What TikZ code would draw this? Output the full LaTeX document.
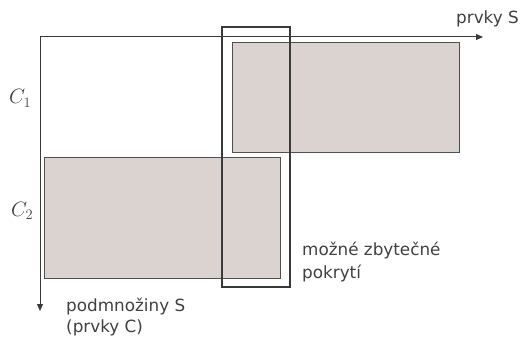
\documentclass[tikz,border=0pt]{standalone}
\usepackage{fontspec}
\setmainfont{DejaVu Sans}
\usetikzlibrary{arrows.meta}
\definecolor{txt}{HTML}{404040}
\definecolor{axis}{HTML}{3A3A3A}
\definecolor{fillg}{HTML}{DBD3D0}
\definecolor{edgeg}{HTML}{505050}
\begin{document}
\begin{tikzpicture}[x=1pt,y=-1pt,
  graybox/.style={draw=edgeg,line width=0.9pt,fill=fillg,inner sep=0pt,outer sep=0pt},
  darkbox/.style={draw=axis,line width=1.6pt,inner sep=0pt,outer sep=0pt},
  axisline/.style={draw=axis,line width=1pt,-{Triangle[length=7pt,width=6pt]}},
  lbl/.style={text=txt,inner sep=0pt,font=\fontsize{16.8}{22}\selectfont,align=left},
  mlbl/.style={text=txt,inner sep=0pt,font=\fontsize{20}{24}\selectfont}]
\useasboundingbox (0,0) rectangle (521,339);
\node[graybox,minimum width=227pt,minimum height=110pt] (r1) at (345.5,97) {};
\node[graybox,minimum width=236pt,minimum height=121pt] (r2) at (162,217.5) {};
\coordinate (O) at (40,37);
\coordinate (xe) at (483,37);
\coordinate (ye) at (40,311);
\draw[axisline] (O) -- (xe);
\draw[axisline] (O) -- (ye);
\node[darkbox,minimum width=68pt,minimum height=260pt] (d) at (256,157) {};
\node[lbl,anchor=base west] (ps) at (456,24) {prvky S};
\node[mlbl,anchor=base west] (c1) at (9,104) {$C_1$};
\node[mlbl,anchor=base west] (c2) at (11,216) {$C_2$};
\node[lbl,anchor=base west] (mz) at (302,255) {možné zbytečné};
\node[lbl,anchor=base west] (mz2) at (302,278) {pokrytí};
\node[lbl,anchor=base west] (pm) at (66,311) {podmnožiny S};
\node[lbl,anchor=base west] (pm2) at (66,332) {(prvky C)};
\end{tikzpicture}
\end{document}
